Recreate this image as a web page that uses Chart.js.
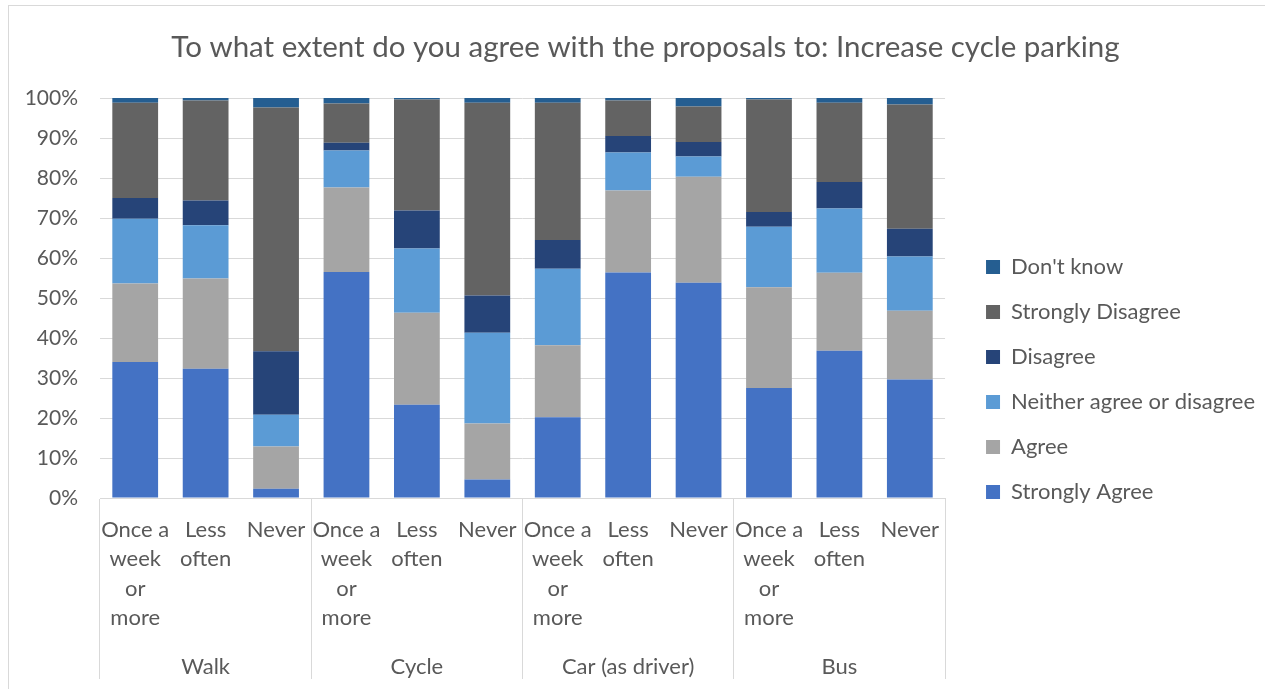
<!DOCTYPE html>
<html><head><meta charset="utf-8">
<script src="https://cdn.jsdelivr.net/npm/chart.js@4.4.1/dist/chart.umd.min.js"></script>
<style>html,body{margin:0;padding:0;background:#fff;}canvas{display:block;}</style>
</head><body>
<canvas id="c" width="1265" height="689"></canvas>
<script>
const titleText = "To what extent do you agree with the proposals to: Increase cycle parking";
const categories = [
  ["Once a","week","or","more"], ["Less","often"], ["Never"],
  ["Once a","week","or","more"], ["Less","often"], ["Never"],
  ["Once a","week","or","more"], ["Less","often"], ["Never"],
  ["Once a","week","or","more"], ["Less","often"], ["Never"]
];
const groups = ["Walk", "Cycle", "Car (as driver)", "Bus"];
const seriesNames = ["Strongly Agree", "Agree", "Neither agree or disagree", "Disagree", "Strongly Disagree", "Don't know"];
const stronglyAgree    = [34.0, 32.3,  2.3, 56.5, 23.3,  4.6, 20.2, 56.4, 53.8, 27.5, 36.8, 29.6];
const agree            = [19.6, 22.6, 10.6, 21.1, 23.0, 14.0, 18.0, 20.5, 26.5, 25.2, 19.5, 17.2];
const neither          = [16.2, 13.3,  7.9,  9.3, 16.1, 22.7, 19.1,  9.5,  5.1, 15.1, 16.1, 13.6];
const disagree         = [ 5.2,  6.2, 15.9,  1.9,  9.5,  9.3,  7.2,  4.1,  3.6,  3.7,  6.6,  6.9];
const stronglyDisagree = [23.8, 25.0, 60.9,  9.8, 27.7, 48.2, 34.3,  8.9,  8.9, 28.1, 19.8, 31.1];
const dontKnow         = [ 1.2,  0.6,  2.4,  1.4,  0.4,  1.2,  1.2,  0.6,  2.1,  0.4,  1.2,  1.6];
const yTickLabels = ["0%","10%","20%","30%","40%","50%","60%","70%","80%","90%","100%"];

const seriesValues = [stronglyAgree, agree, neither, disagree, stronglyDisagree, dontKnow];
const seriesColors = ["#4472C4", "#A5A5A5", "#5B9BD5", "#264478", "#636363", "#255E91"];

const FONT = "Lato";
const TXT = "#595959";
const GRID = "#d9d9d9";

const framePlugin = {
  id: 'frame',
  beforeDraw(chart) {
    const c = chart.ctx;
    c.save();
    c.fillStyle = '#ffffff';
    c.fillRect(0, 0, chart.width, chart.height);
    c.strokeStyle = GRID;
    c.lineWidth = 1;
    c.strokeRect(8.5, 5.5, chart.width + 20, chart.height + 20);
    c.restore();
  }
};

new Chart(document.getElementById('c'), {
  type: 'bar',
  data: {
    labels: categories,
    datasets: seriesNames.map((n, i) => ({
      label: n,
      data: seriesValues[i],
      backgroundColor: seriesColors[i],
      borderWidth: 0,
      barPercentage: 0.65,
      categoryPercentage: 1.0
    }))
  },
  options: {
    responsive: false,
    animation: false,
    layout: { padding: { left: 26, right: 0, top: 0, bottom: 0 } },
    plugins: {
      title: {
        display: true, text: titleText, color: TXT,
        font: { family: FONT, size: 29.5, weight: 'normal', lineHeight: 1.2 },
        padding: { top: 29.3, bottom: 33.3 }
      },
      legend: {
        position: 'right', reverse: true, align: 'center',
        title: { display: true, text: ' ', font: { family: FONT, size: 10, lineHeight: 1 }, padding: { top: 60, bottom: 0 } },
        labels: { boxWidth: 14, boxHeight: 14, padding: 23, color: TXT, font: { family: FONT, size: 22 } }
      },
      tooltip: { enabled: false }
    },
    scales: {
      x: {
        stacked: true, offset: true,
        grid: {
          display: true, drawOnChartArea: false, drawTicks: true, tickLength: 181, offset: true,
          color: ctx => (ctx.type !== 'tick' || ctx.index % 3 === 0) ? GRID : 'rgba(0,0,0,0)'
        },
        border: { display: true, color: GRID },
        ticks: { padding: -164, color: TXT, maxRotation: 0, autoSkip: false, font: { family: FONT, size: 22, lineHeight: 1.34 } },
        afterFit(s) { s.height = 140; }
      },
      x2: {
        type: 'category', labels: groups, position: 'bottom', offset: true,
        grid: { display: false }, border: { display: false },
        ticks: { padding: 7.5, color: TXT, maxRotation: 0, autoSkip: false, font: { family: FONT, size: 22, lineHeight: 1.2 } },
        afterFit(s) { s.height = 51; }
      },
      y: {
        stacked: true, min: 0, max: 100,
        grid: { color: GRID, drawTicks: false },
        border: { display: false },
        ticks: { stepSize: 10, padding: 22, color: TXT, font: { family: FONT, size: 21 },
                 callback: (v) => yTickLabels[Math.round(v / 10)] },
        afterFit(s) { s.width = 74; }
      },
      yR: {
        position: 'right', display: false,
        afterFit(s) { s.width = 18; }
      }
    }
  },
  plugins: [framePlugin]
});
</script>
</body></html>
